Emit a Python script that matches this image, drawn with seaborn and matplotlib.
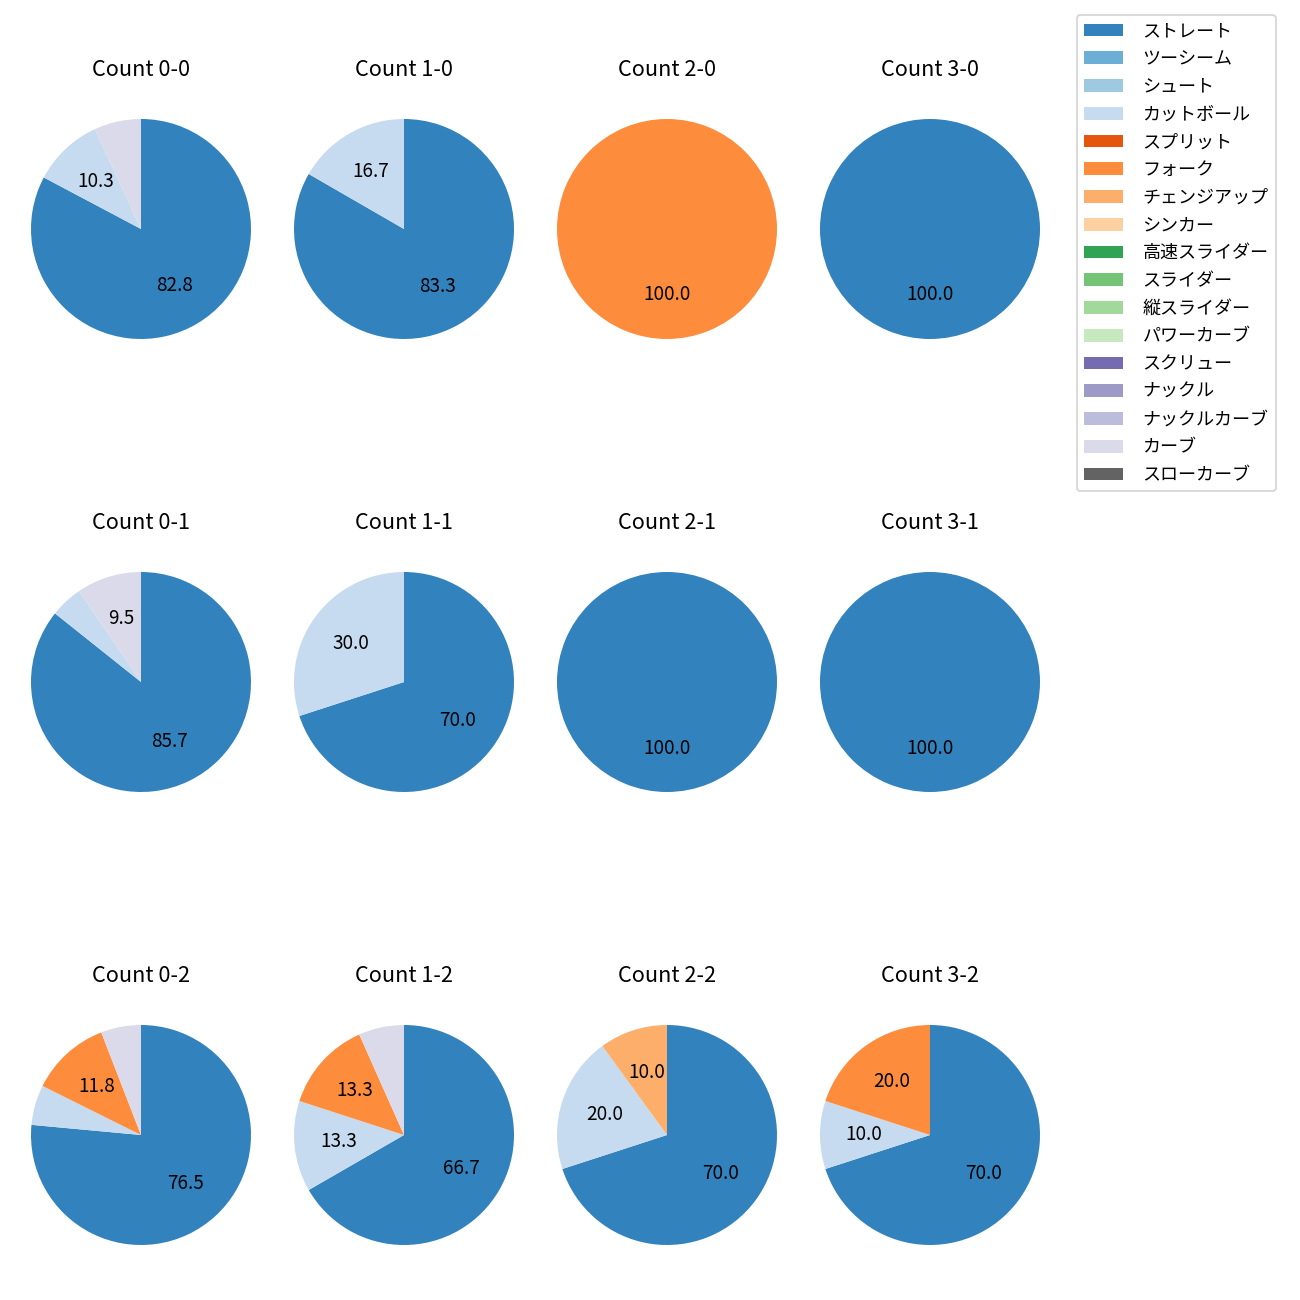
import matplotlib
matplotlib.use("Agg")
import matplotlib.pyplot as plt
import matplotlib.patches as mpatches
import seaborn as sns

plt.rcParams['font.family'] = ['Noto Sans CJK JP', 'DejaVu Sans']

pitch_types = ["ストレート", "ツーシーム", "シュート", "カットボール", "スプリット", "フォーク",
               "チェンジアップ", "シンカー", "高速スライダー", "スライダー", "縦スライダー",
               "パワーカーブ", "スクリュー", "ナックル", "ナックルカーブ", "カーブ", "スローカーブ"]

balls = [0, 1, 2, 3]
strikes = [0, 1, 2]

# pitch counts per ball-strike count (pitch type -> count)
count_0_0 = {"ストレート": 24, "カットボール": 3, "カーブ": 2}
count_1_0 = {"ストレート": 5, "カットボール": 1}
count_2_0 = {"フォーク": 1}
count_3_0 = {"ストレート": 1}
count_0_1 = {"ストレート": 18, "カットボール": 1, "カーブ": 2}
count_1_1 = {"ストレート": 7, "カットボール": 3}
count_2_1 = {"ストレート": 1}
count_3_1 = {"ストレート": 1}
count_0_2 = {"ストレート": 13, "カットボール": 1, "フォーク": 2, "カーブ": 1}
count_1_2 = {"ストレート": 10, "カットボール": 2, "フォーク": 2, "カーブ": 1}
count_2_2 = {"ストレート": 7, "カットボール": 2, "チェンジアップ": 1}
count_3_2 = {"ストレート": 7, "カットボール": 1, "フォーク": 2}

data = {
    (0, 0): count_0_0, (1, 0): count_1_0, (2, 0): count_2_0, (3, 0): count_3_0,
    (0, 1): count_0_1, (1, 1): count_1_1, (2, 1): count_2_1, (3, 1): count_3_1,
    (0, 2): count_0_2, (1, 2): count_1_2, (2, 2): count_2_2, (3, 2): count_3_2,
}

palette = sns.color_palette("tab20c", 20)[:len(pitch_types)]
color_map = dict(zip(pitch_types, palette))

fig = plt.figure(figsize=(10, 10), dpi=130)
W = H = 1300.0
size = 275.0

for s in strikes:
    for b in balls:
        cx = 141 + 263 * b
        cy = 229 + 453 * s
        ax = fig.add_axes([(cx - size / 2) / W, 1 - (cy + size / 2) / H, size / W, size / H])
        d = data[(b, s)]
        labels = [p for p in pitch_types if p in d]
        vals = [d[p] for p in labels]
        ax.pie(vals, colors=[color_map[p] for p in labels], startangle=90, counterclock=False,
               autopct=lambda p: f"{p:.1f}" if p >= 8 else "",
               textprops={"fontsize": 10.5, "color": "black"},
               wedgeprops={"linewidth": 0})
        ax.set_title(f"Count {b}-{s}", fontsize=12, pad=8.5, color="black")

handles = [mpatches.Patch(color=color_map[p], label=p, linewidth=0) for p in pitch_types]
fig.legend(handles=handles, loc="upper left", bbox_to_anchor=(1067.5 / W, 1 - 6 / H),
           fontsize=10, handletextpad=1.1, handlelength=2.15, labelspacing=0.54)

fig.savefig("out.png", dpi=130)
